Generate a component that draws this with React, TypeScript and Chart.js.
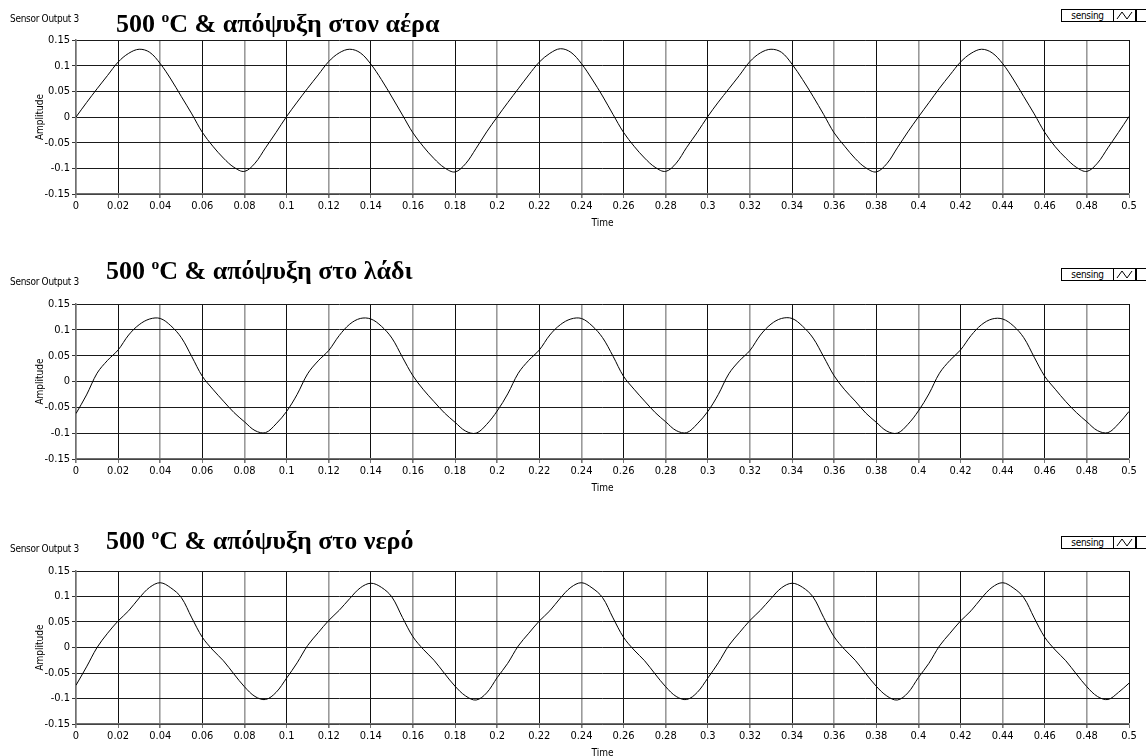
import React, { useEffect, useRef } from "react";
import { Chart, registerables } from "chart.js";

Chart.register(...registerables);

// ---------- data ----------
const TIME = [
  0, 0.005, 0.01, 0.015, 0.02, 0.025, 0.03, 0.035, 0.04, 0.045,
  0.05, 0.055, 0.06, 0.065, 0.07, 0.075, 0.08, 0.085, 0.09, 0.095,
  0.1, 0.105, 0.11, 0.115, 0.12, 0.125, 0.13, 0.135, 0.14, 0.145,
  0.15, 0.155, 0.16, 0.165, 0.17, 0.175, 0.18, 0.185, 0.19, 0.195,
  0.2, 0.205, 0.21, 0.215, 0.22, 0.225, 0.23, 0.235, 0.24, 0.245,
  0.25, 0.255, 0.26, 0.265, 0.27, 0.275, 0.28, 0.285, 0.29, 0.295,
  0.3, 0.305, 0.31, 0.315, 0.32, 0.325, 0.33, 0.335, 0.34, 0.345,
  0.35, 0.355, 0.36, 0.365, 0.37, 0.375, 0.38, 0.385, 0.39, 0.395,
  0.4, 0.405, 0.41, 0.415, 0.42, 0.425, 0.43, 0.435, 0.44, 0.445,
  0.45, 0.455, 0.46, 0.465, 0.47, 0.475, 0.48, 0.485, 0.49, 0.495,
  0.5,
];

const AIR = [
  0, 0.028, 0.055, 0.081, 0.107, 0.124, 0.132, 0.126, 0.104, 0.074,
  0.04, 0.006, -0.03, -0.057, -0.08, -0.098, -0.106, -0.09, -0.06, -0.03,
  0.001, 0.029, 0.056, 0.082, 0.108, 0.125, 0.132, 0.125, 0.103, 0.073,
  0.039, 0.004, -0.031, -0.058, -0.081, -0.099, -0.107, -0.091, -0.061, -0.029,
  0.0, 0.028, 0.055, 0.082, 0.107, 0.124, 0.133, 0.126, 0.104, 0.074,
  0.041, 0.005, -0.03, -0.057, -0.08, -0.098, -0.106, -0.09, -0.059, -0.03,
  0.001, 0.029, 0.055, 0.081, 0.108, 0.125, 0.132, 0.126, 0.103, 0.073,
  0.04, 0.005, -0.031, -0.057, -0.081, -0.099, -0.107, -0.091, -0.06, -0.029,
  0.0, 0.028, 0.056, 0.082, 0.107, 0.124, 0.132, 0.125, 0.104, 0.074,
  0.04, 0.006, -0.03, -0.058, -0.08, -0.098, -0.106, -0.09, -0.06, -0.03,
  0.001,
];

const OIL = [
  -0.062, -0.026, 0.016, 0.041, 0.061, 0.09, 0.11, 0.121, 0.122, 0.108,
  0.085, 0.048, 0.01, -0.015, -0.038, -0.06, -0.078, -0.095, -0.099, -0.082,
  -0.058, -0.025, 0.015, 0.04, 0.06, 0.089, 0.111, 0.122, 0.121, 0.107,
  0.084, 0.047, 0.011, -0.016, -0.039, -0.061, -0.079, -0.096, -0.1, -0.083,
  -0.057, -0.024, 0.016, 0.041, 0.061, 0.09, 0.11, 0.121, 0.122, 0.108,
  0.085, 0.049, 0.01, -0.015, -0.038, -0.06, -0.078, -0.095, -0.099, -0.082,
  -0.058, -0.025, 0.015, 0.04, 0.06, 0.09, 0.111, 0.122, 0.122, 0.107,
  0.084, 0.048, 0.011, -0.016, -0.038, -0.061, -0.079, -0.096, -0.1, -0.083,
  -0.057, -0.024, 0.016, 0.041, 0.061, 0.089, 0.11, 0.121, 0.121, 0.108,
  0.085, 0.047, 0.01, -0.015, -0.039, -0.06, -0.078, -0.095, -0.099, -0.082,
  -0.058,
];

const WATER = [
  -0.074, -0.038, 0.0, 0.028, 0.052, 0.072, 0.097, 0.118, 0.127, 0.117,
  0.098, 0.058, 0.02, -0.005, -0.026, -0.052, -0.077, -0.096, -0.102, -0.088,
  -0.06, -0.03, 0.004, 0.029, 0.053, 0.073, 0.096, 0.117, 0.126, 0.118,
  0.099, 0.059, 0.021, -0.004, -0.025, -0.051, -0.076, -0.095, -0.103, -0.089,
  -0.059, -0.031, 0.003, 0.028, 0.052, 0.072, 0.097, 0.118, 0.127, 0.117,
  0.098, 0.058, 0.02, -0.005, -0.026, -0.052, -0.077, -0.096, -0.102, -0.088,
  -0.06, -0.03, 0.004, 0.029, 0.053, 0.073, 0.096, 0.117, 0.126, 0.118,
  0.099, 0.059, 0.021, -0.004, -0.025, -0.051, -0.076, -0.095, -0.103, -0.089,
  -0.059, -0.031, 0.003, 0.028, 0.052, 0.072, 0.097, 0.118, 0.127, 0.117,
  0.098, 0.058, 0.02, -0.005, -0.026, -0.052, -0.077, -0.096, -0.102, -0.088,
  -0.07,
];

const X_TICKS = [
  0, 0.02, 0.04, 0.06, 0.08, 0.1, 0.12, 0.14, 0.16, 0.18, 0.2, 0.22, 0.24,
  0.26, 0.28, 0.3, 0.32, 0.34, 0.36, 0.38, 0.4, 0.42, 0.44, 0.46, 0.48, 0.5,
];
const Y_TICKS = [-0.15, -0.1, -0.05, 0, 0.05, 0.1, 0.15];

const TITLE_PREFIX = "500 ";
const TITLE_SUP = "o";
const TITLE_MID = "C & ";
const TITLES = ["απόψυξη στον αέρα", "απόψυξη στο λάδι", "απόψυξη στο νερό"];
const PLOT_LABEL = "Sensor Output 3";
const SERIES_NAME = "sensing";
const X_TITLE = "Time";
const Y_TITLE = "Amplitude";

// ---------- layout ----------
const W = 1146;
const PLOT_LEFT = 76;
const PLOT_RIGHT = 1129;
const PAD_LEFT = 28;
const TOP_PAD = 40;
const X_AXIS_H = 36;
const SMALL_FONT = "'Liberation Sans Narrow', 'DejaVu Sans Condensed', Arial, sans-serif";

type PanelCfg = {
  plotTop: number;
  plotH: number;
  titleLeft: number;
  titleBaseline: number;
  labelTop: number;
  legendTop: number;
  values: number[];
  title: string;
};

const PANELS: PanelCfg[] = [
  { plotTop: 40, plotH: 154, titleLeft: 116, titleBaseline: 33, labelTop: 13, legendTop: 9, values: AIR, title: TITLES[0] },
  { plotTop: 304, plotH: 155, titleLeft: 106, titleBaseline: 280, labelTop: 276, legendTop: 268, values: OIL, title: TITLES[1] },
  { plotTop: 571, plotH: 153, titleLeft: 106, titleBaseline: 550, labelTop: 543, legendTop: 536, values: WATER, title: TITLES[2] },
];

function Panel({ cfg }: { cfg: PanelCfg }) {
  const ref = useRef<HTMLCanvasElement | null>(null);
  const canvasTop = cfg.plotTop - TOP_PAD;
  const canvasH = TOP_PAD + cfg.plotH + X_AXIS_H;

  useEffect(() => {
    if (!ref.current) return;
    const tickFont = { family: SMALL_FONT, size: 11 };
    const chart = new Chart(ref.current, {
      type: "line",
      data: {
        datasets: [
          {
            label: SERIES_NAME,
            data: TIME.map((t, i) => ({ x: t, y: cfg.values[i] })),
            borderColor: "#000",
            borderWidth: 1,
            pointRadius: 0,
            tension: 0.35,
            fill: false,
          },
        ],
      },
      options: {
        animation: false,
        responsive: false,
        devicePixelRatio: 1,
        layout: { padding: { left: PAD_LEFT, top: TOP_PAD, right: W - PLOT_RIGHT, bottom: 0 } },
        plugins: { legend: { display: false }, tooltip: { enabled: false }, title: { display: false } },
        scales: {
          x: {
            type: "linear",
            min: 0,
            max: 0.5,
            afterBuildTicks: (s: any) => {
              s.ticks = X_TICKS.map((v) => ({ value: v }));
            },
            afterFit: (s: any) => {
              s.height = X_AXIS_H;
            },
            ticks: {
              autoSkip: false,
              maxRotation: 0,
              color: "#000",
              font: tickFont,
              padding: 2,
              callback: (v: any) => String(v),
            },
            grid: {
              color: (c: any) => (c.index % 2 === 1 ? "#111" : "#9a9a9a"),
              lineWidth: (c: any) => (c.index % 2 === 1 ? 1 : 1.6),
              tickColor: "#777",
              tickLength: 4,
              drawTicks: true,
            },
            border: { display: true, color: "#6f6f6f", width: 1.5 },
            title: {
              display: true,
              text: X_TITLE,
              color: "#000",
              font: { family: SMALL_FONT, size: 10 },
              padding: { top: 0, bottom: 1 },
            },
          },
          y: {
            type: "linear",
            min: -0.15,
            max: 0.15,
            afterBuildTicks: (s: any) => {
              s.ticks = Y_TICKS.map((v) => ({ value: v }));
            },
            afterFit: (s: any) => {
              s.width = PLOT_LEFT - PAD_LEFT;
            },
            ticks: {
              color: "#000",
              font: tickFont,
              padding: 2,
              callback: (v: any) => String(v),
            },
            grid: {
              color: "#1a1a1a",
              lineWidth: 1,
              tickColor: "#333",
              tickLength: 4,
              drawTicks: true,
            },
            border: { display: true, color: "#6f6f6f", width: 1.5 },
            title: {
              display: true,
              text: Y_TITLE,
              color: "#000",
              font: { family: SMALL_FONT, size: 10 },
              padding: { top: 6, bottom: 0 },
            },
          },
        },
      },
    } as any);
    return () => chart.destroy();
  }, [cfg]);

  return (
    <>
      <canvas
        ref={ref}
        width={W}
        height={canvasH}
        style={{ position: "absolute", left: 0, top: canvasTop, width: W, height: canvasH }}
      />
      <div
        style={{
          position: "absolute",
          left: 10,
          top: cfg.labelTop,
          font: `10px ${SMALL_FONT}`,
          lineHeight: "12px",
          color: "#000",
          whiteSpace: "nowrap",
          letterSpacing: "-0.3px",
        }}
      >
        {PLOT_LABEL}
      </div>
      <div
        style={{
          position: "absolute",
          left: cfg.titleLeft,
          top: cfg.titleBaseline - 22,
          fontFamily: "'Liberation Serif', 'Times New Roman', serif",
          fontWeight: "bold",
          fontSize: 26,
          lineHeight: "26px",
          color: "#000",
          whiteSpace: "nowrap",
        }}
      >
        {TITLE_PREFIX}
        <span style={{ fontSize: "0.6em", position: "relative", top: "-0.65em" }}>{TITLE_SUP}</span>
        {TITLE_MID}
        {cfg.title}
      </div>
      <div
        style={{
          position: "absolute",
          left: 1061,
          top: cfg.legendTop,
          width: 100,
          height: 11,
          border: "1px solid #000",
          display: "flex",
          background: "#fff",
          boxSizing: "content-box",
        }}
      >
        <div
          style={{
            width: 51,
            font: `10px ${SMALL_FONT}`,
            lineHeight: "11px",
            textAlign: "center",
            color: "#000",
            letterSpacing: "-0.3px",
          }}
        >
          {SERIES_NAME}
        </div>
        <div
          style={{
            width: 21,
            height: 11,
            borderLeft: "1px solid #000",
            borderRight: "2px solid #000",
          }}
        >
          <svg width={21} height={11} style={{ display: "block" }}>
            <polyline points="3,9 8,2 13,9 18,2" fill="none" stroke="#000" strokeWidth={1} />
          </svg>
        </div>
      </div>
    </>
  );
}

export default function App() {
  useEffect(() => {
    document.body.style.margin = "0";
  }, []);
  return (
    <div
      style={{
        position: "absolute",
        left: 0,
        top: 0,
        width: W,
        height: 756,
        overflow: "hidden",
        background: "#fff",
      }}
    >
      {PANELS.map((p, i) => (
        <Panel key={i} cfg={p} />
      ))}
    </div>
  );
}
